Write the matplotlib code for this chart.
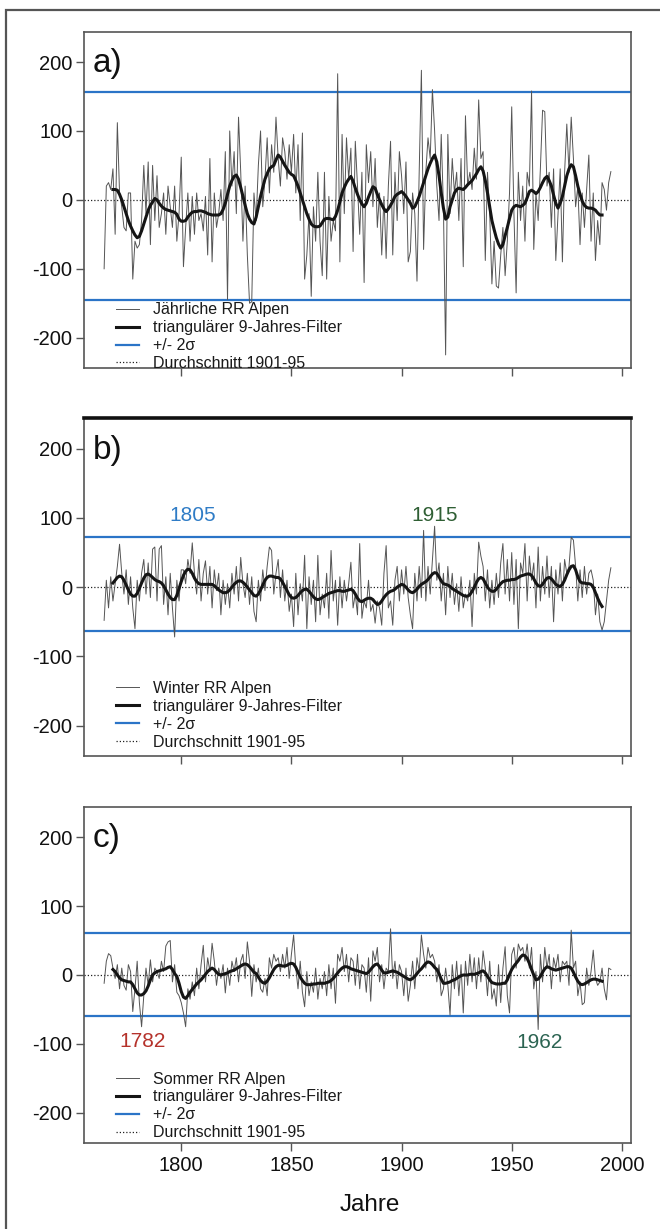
import numpy as np
import matplotlib
matplotlib.use("Agg")
import matplotlib.pyplot as plt
from matplotlib import font_manager
from matplotlib.patches import Rectangle

# ---------------- data ----------------
raw_start = 1765
smooth_start = 1769

annual_raw = [
    -100, 20, 25, 15, 45, -50, 112, 10, -10, -40,
    -45, 10, 10, -115, -60, -70, -65, -30, 50, -20,
    55, -65, 50, -30, 35, -40, -20, 10, -50, 20,
    -10, -40, 20, -60, -20, 62, -97, -40, 10, -60,
    5, -50, 10, -30, -20, -45, 5, -80, 60, -90,
    10, -40, -20, 15, -30, 70, -145, 100, 20, 70,
    -20, 120, 40, -60, 20, -80, -150, -148, 10, -30,
    50, 100, -10, 30, 90, 10, 80, 40, 120, 60,
    20, 90, 70, 30, 80, 40, 95, 10, 80, -30,
    97, -115, -80, -20, -140, -10, -60, 40, -60, -110,
    40, -115, 5, -60, -30, -45, 183, -90, 95, -20,
    90, 30, 75, -75, 85, 20, -50, 40, -120, 80,
    25, 70, -10, 60, -40, 10, -80, 5, -85, 20,
    85, -80, 40, -30, 70, 35, -20, 55, -90, -75,
    10, -20, -118, 40, 188, -72, 40, 90, 60, 160,
    100, 20, -30, 95, -10, -225, 95, -20, 60, 10,
    40, -30, 60, -97, 122, 20, 40, 15, 75, 30,
    145, 60, 70, -88, 40, -20, -122, -60, -125, -128,
    -80, -40, -110, -60, 10, 135, -20, -135, 40, -30,
    20, -60, 40, 20, 158, -72, 10, -30, 45, 130,
    128, 20, 40, -40, 45, -88, -20, 45, -90, 40,
    110, 40, 120, 60, -10, 20, -65, 10, -40, 15,
    65, -60, 10, -88, -30, -65, 25, 15, -15, 25,
    41,
]

annual_smooth = [
    15, 15, 14, 8, 0, -10, -20, -30, -38, -45, -51, -55, -53, -45, -35, -25, -15, -8, -3, 2,
    0, -5, -9, -12, -14, -15, -16, -17, -18, -21, -28, -31, -31, -30, -25, -21, -18, -17, -17, -16,
    -16, -17, -18, -20, -21, -22, -22, -22, -22, -20, -14, -5, 8, 20, 28, 34, 36, 30, 18, 5,
    -8, -20, -28, -33, -35, -25, -10, 5, 18, 30, 38, 45, 48, 50, 58, 65, 62, 56, 50, 45,
    40, 37, 35, 28, 20, 10, 0, -10, -20, -28, -35, -38, -39, -39, -38, -33, -28, -27, -27, -28,
    -29, -24, -15, -3, 10, 18, 25, 30, 34, 27, 17, 8, 0, -6, -10, -5, 4, 12, 19, 17,
    8, 0, -7, -13, -17, -13, -8, -2, 5, 8, 10, 12, 9, 5, 0, -5, -12, -10, -3, 5,
    15, 25, 35, 45, 53, 60, 65, 55, 35, 10, -12, -28, -25, -10, 0, 10, 15, 17, 16, 15,
    18, 22, 25, 28, 33, 38, 44, 48, 42, 28, 10, -10, -30, -43, -55, -64, -70, -65, -52, -40,
    -27, -15, -10, -8, -9, -10, -8, -5, 3, 12, 14, 12, 9, 12, 18, 25, 31, 34, 28, 20,
    7, -5, -12, -5, 5, 20, 35, 45, 51, 48, 35, 20, 8, -2, -8, -11, -12, -12, -13, -15,
    -19, -22, -22,
]

winter_raw = [
    -48, 10, -30, 15, -20, 5, 30, 62, 20, -10,
    25, -25, 15, -30, -60, 10, -20, 20, 40, -10,
    35, -15, 55, 58, -20, 55, 60, -25, 15, -40,
    20, -30, -72, 10, -20, 25, 25, 5, 40, 20,
    64, 20, -10, 40, -20, 20, 38, -10, 30, -30,
    25, -5, 20, -40, 10, -25, 5, -30, 20, -10,
    30, -20, 43, 5, -15, 20, -25, 15, -35, -50,
    10, -20, 25, -5, 30, 58, 53, -10, 20, 40,
    -15, 25, -20, 10, -35, -10, -57, 20, -40, 5,
    -20, 46, -60, 15, -25, 10, -50, 46, -40, -10,
    -30, 20, -45, 53, -20, 10, -55, 15, -30, 10,
    -20, 5, 36, -30, -10, -40, 63, -45, -20, -30,
    10, -35, -25, -52, -20, -30, -55, 20, 60, -30,
    -20, -55, 10, 30, -20, 25, -10, 30, -15, -40,
    -60, 20, -20, 30, -15, 82, -20, 30, -10, 40,
    88, 10, 35, -20, 20, -40, 30, -15, 20, -25,
    5, -35, 15, -30, -10, -20, 10, -57, 20, -10,
    65, 45, 30, -20, 25, -30, 10, -25, 20, -15,
    35, 63, -10, 40, -20, 50, -25, 40, -60, 35,
    20, 63, -20, 45, 10, 35, -30, 58, -20, 30,
    -10, 45, -15, 30, -50, 25, -10, 35, -20, 40,
    20, 30, 72, 68, 30, -20, 25, -15, 30, -10,
    20, 25, 10, -40, -10, -50, -62, -50, -20, 10,
    28,
]

winter_smooth = [
    6, 10, 14, 16, 15, 10, 3, -4, -10, -13, -13, -9, -2, 6, 13, 18, 19, 17, 14, 11,
    9, 8, 6, 2, -4, -10, -15, -18, -18, -12, -2, 8, 17, 23, 26, 25, 20, 13, 8, 5,
    4, 4, 4, 4, 4, 4, 2, -1, -4, -6, -8, -8, -7, -4, 0, 4, 7, 9, 9, 7,
    4, 0, -4, -8, -12, -13, -10, -4, 3, 10, 14, 16, 16, 15, 14, 14, 12, 7, 1, -5,
    -11, -15, -16, -15, -12, -8, -5, -3, -3, -6, -10, -14, -17, -18, -17, -15, -13, -11, -9, -8,
    -7, -6, -5, -5, -6, -6, -5, -4, -3, -5, -10, -16, -20, -21, -19, -17, -16, -16, -18, -22,
    -25, -24, -20, -15, -11, -8, -6, -5, -3, 0, 2, 4, 3, 0, -4, -7, -8, -6, -3, 1,
    4, 6, 8, 11, 15, 19, 21, 20, 15, 9, 5, 4, 3, 1, -2, -4, -6, -8, -10, -12,
    -13, -13, -11, -6, 0, 7, 12, 14, 12, 6, 0, -4, -6, -6, -3, 1, 5, 8, 9, 10,
    10, 11, 11, 12, 14, 16, 17, 18, 19, 19, 17, 12, 6, 2, 1, 4, 9, 13, 14, 12,
    8, 4, 2, 1, 4, 10, 18, 25, 30, 31, 25, 15, 8, 6, 6, 5, 5, 4, 0, -8,
    -16, -23, -28,
]

summer_raw = [
    -12, 20, 31, 28, 10, -5, 15, -20, 10, -15,
    -22, 15, 5, -53, -20, 20, -40, -75, -30, 10,
    -15, 22, -10, 10, 5, -5, 20, 5, 42, 48,
    50, -10, 15, -25, -30, -40, -55, -75, -20, -35,
    -10, -30, 10, -20, 15, 43, -10, 25, 5, 46,
    20, -15, 10, -5, 15, -26, 10, -15, 20, 5,
    25, -10, 20, 30, -5, 48, 20, -31, 15, -10,
    10, -20, -25, -5, -30, 25, 10, 30, 20, 25,
    5, 30, 10, 40, -5, 30, 58, 10, -20, 20,
    -25, -46, 5, -30, -10, -25, 10, -35, -5, -20,
    5, -30, 15, -20, 10, -41, 30, 20, 40, 5,
    30, -10, 25, 20, -15, 30, -20, 15, 10, -25,
    25, -38, 35, 20, 40, -10, 15, -20, 10, 5,
    67, -5, 20, -20, 15, 5, -30, 10, -38, -15,
    20, -20, 25, 5, 58, 30, 10, 40, 25, 30,
    20, -10, 15, -30, -20, 10, -15, -58, 15, -20,
    20, -30, 15, -55, 20, -15, 30, -10, 25, -20,
    25, -10, 35, 10, -30, 20, -35, -20, -45, 15,
    -40, 10, 41, -30, -55, 30, 40, 10, 45, 35,
    40, 20, 45, 10, 40, -20, 5, -79, 30, -10,
    40, 10, 30, -20, 25, 10, 30, -10, 20, 15,
    20, -15, 65, 10, 20, -30, -10, -43, -40, 10,
    -15, 5, 36, -5, -15, -10, 10, -20, -36, 10,
    8,
]

summer_smooth = [
    8, 5, 0, -4, -7, -8, -9, -10, -10, -14, -20, -26, -29, -29, -27, -23, -16, -7, 0, 3,
    5, 6, 7, 8, 9, 11, 12, 8, 2, -2, -12, -24, -32, -34, -30, -25, -21, -17, -13, -10,
    -7, -3, 1, 5, 8, 10, 8, 4, 1, 0, 1, 2, 3, 5, 6, 7, 9, 11, 13, 15,
    16, 15, 12, 8, 4, 2, -3, -8, -11, -12, -9, -4, 2, 8, 12, 14, 14, 13, 13, 14,
    16, 17, 16, 11, 4, -3, -8, -12, -14, -14, -14, -13, -13, -12, -12, -12, -12, -11, -10, -8,
    -5, -1, 3, 7, 10, 12, 12, 11, 9, 8, 7, 6, 5, 4, 3, 2, 4, 8, 12, 15,
    16, 12, 7, 3, 3, 4, 5, 6, 5, 4, 2, 0, -2, -4, -6, -7, -5, -2, 2, 6,
    9, 13, 17, 19, 18, 15, 11, 8, 2, -6, -12, -12, -11, -10, -8, -7, -5, -3, -1, 0,
    0, 0, 1, 1, 1, 2, 3, 5, 6, 3, -2, -7, -11, -12, -13, -13, -13, -12, -12, -7,
    1, 8, 13, 17, 21, 26, 29, 28, 24, 17, 8, 0, -7, -6, -2, 4, 9, 12, 11, 9,
    8, 7, 8, 9, 10, 11, 12, 12, 10, 4, -3, -9, -13, -14, -13, -11, -9, -7, -6, -6,
    -7, -8, -9,
]

sigma_upper = [157, 73, 61]
sigma_lower = [-145, -64, -60]
panel_letters = ["a)", "b)", "c)"]
series_labels = ["Jährliche RR Alpen", "Winter RR Alpen", "Sommer RR Alpen"]
filter_label = "triangulärer 9-Jahres-Filter"
sigma_label = "+/- 2σ"
mean_label = "Durchschnitt 1901-95"
x_ticks = [1800, 1850, 1900, 1950, 2000]
y_ticks = [-200, -100, 0, 100, 200]

# annotations: (panel index, year, value, text, colour)
ann_panel = [1, 1, 2, 2]
ann_year = [1805, 1915, 1782.5, 1962.5]
ann_value = [103, 104, -96, -98]
ann_text = ["1805", "1915", "1782", "1962"]
ann_color = ["#2f7cc6", "#2f5f34", "#b5322b", "#2c6452"]

# ---------------- fonts ----------------
names = {f.name for f in font_manager.fontManager.ttflist}
if "Liberation Sans Narrow" in names:
    FAM = ["Liberation Sans Narrow", "Liberation Sans", "DejaVu Sans"]
    FS_TICK, FS_LEG, FS_LET, FS_ANN = 16.5, 13.5, 26, 15.5
else:
    FAM = ["Liberation Sans", "DejaVu Sans"]
    FS_TICK, FS_LEG, FS_LET, FS_ANN = 14.5, 11.5, 24, 15
plt.rcParams["font.family"] = FAM

W, H = 660, 1229
fig = plt.figure(figsize=(W / 100, H / 100), dpi=100)

BLUE = "#2b74c7"
SPINE = "#555555"

raw_sets = [annual_raw, winter_raw, summer_raw]
smooth_sets = [annual_smooth, winter_smooth, summer_smooth]

# axes boxes in pixels: (top, bottom)
boxes = [(31.7, 368.0), (418.3, 756.0), (806.7, 1143.3)]
left_px, right_px = 84.3, 630.7
leg_top = [0.195, 0.222, 0.213]

for i in range(3):
    top, bot = boxes[i]
    ax = fig.add_axes([left_px / W, 1 - bot / H, (right_px - left_px) / W, (bot - top) / H])
    raw = np.array(raw_sets[i], dtype=float)
    sm = np.array(smooth_sets[i], dtype=float)
    yr_raw = np.arange(raw_start, raw_start + len(raw))
    yr_sm = np.arange(smooth_start, smooth_start + len(sm))

    ax.plot(yr_raw, raw, color="#555555", lw=0.7, label=series_labels[i], zorder=3)
    ax.plot(yr_sm, sm, color="#151515", lw=2.2, label=filter_label, zorder=4,
            solid_joinstyle="round")
    ax.axhline(sigma_upper[i], color=BLUE, lw=1.6, label=sigma_label, zorder=2)
    ax.axhline(sigma_lower[i], color=BLUE, lw=1.6, zorder=2)
    ax.axhline(0, color="#222222", lw=0.9, ls=(0, (1, 1.6)), label=mean_label, zorder=1)

    ax.set_xlim(1756, 2004)
    ax.set_ylim(-244, 244)
    ax.set_xticks(x_ticks)
    ax.set_yticks(y_ticks)
    ax.set_yticklabels([str(v) for v in y_ticks])
    ax.tick_params(axis="both", direction="out", length=6, width=1.0, color=SPINE,
                   labelsize=FS_TICK, pad=2.5, labelcolor="#111111")
    if i < 2:
        ax.tick_params(axis="x", labelbottom=False)
    else:
        ax.tick_params(axis="x", pad=3)
    for s in ax.spines.values():
        s.set_color(SPINE)
        s.set_linewidth(1.2)
    if i == 1:
        ax.spines["top"].set_color("#111111")
        ax.spines["top"].set_linewidth(2.6)

    ax.text(0.016, 0.905, panel_letters[i], transform=ax.transAxes, fontsize=FS_LET,
            ha="left", va="center", color="#111111")

    leg = ax.legend(loc="upper left", bbox_to_anchor=(0.058, leg_top[i]), frameon=False,
                    fontsize=FS_LEG, handlelength=1.45, handletextpad=0.85,
                    labelspacing=0.18, borderpad=0, borderaxespad=0)
    for t in leg.get_texts():
        t.set_color("#1a1a1a")

    for j in range(len(ann_text)):
        if ann_panel[j] == i:
            ax.text(ann_year[j], ann_value[j], ann_text[j], color=ann_color[j],
                    fontsize=FS_ANN, ha="center", va="center")

fig.text(370 / W, 1 - 1205 / H, "Jahre", fontsize=17.5,
         family=["Liberation Sans", "DejaVu Sans"], ha="center", va="center", color="#111111")

# outer frame
fig.add_artist(Rectangle((6 / W, -0.05), 1.2, 1.05 - 10 / H, transform=fig.transFigure,
                         fill=False, edgecolor="#555555", lw=1.6, clip_on=False))

fig.savefig("out.png", dpi=100)
